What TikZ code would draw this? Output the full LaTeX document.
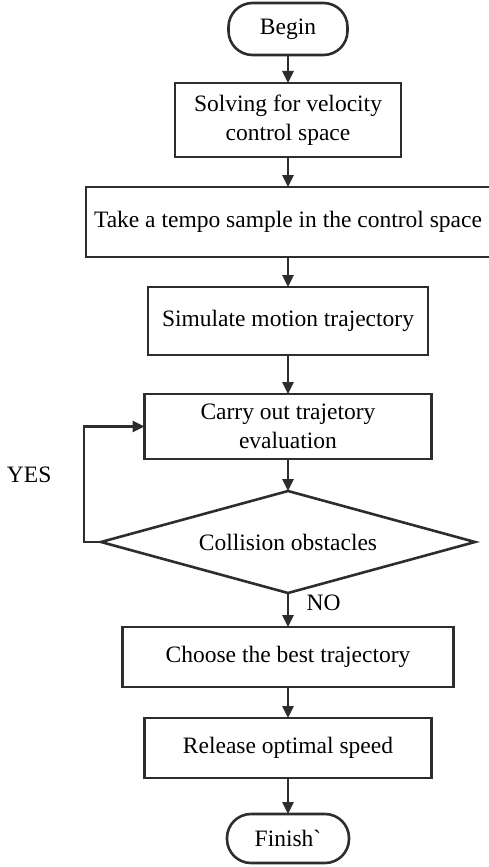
\documentclass[tikz,border=0pt]{standalone}
\usepackage{fontspec}
\setmainfont{Liberation Serif}
\usetikzlibrary{arrows.meta,positioning,shapes.geometric}
\definecolor{edgegray}{RGB}{45,45,45}
\newcommand{\plaingrave}{\XeTeXglyph\XeTeXcharglyph"0060\relax}
\tikzset{
  stepbox/.style={draw=edgegray, rectangle, line width=2.6pt, inner sep=0pt, outer sep=0pt, align=center},
  terminal/.style={stepbox, rounded corners=24pt},
  decision/.style={draw=edgegray, diamond, aspect=3.67, line width=2.6pt, inner sep=0pt, outer sep=0pt},
  arrow/.style={-{Triangle[width=11pt,length=12pt]}, line width=2.6pt, draw=edgegray}
}

\begin{document}
\begin{tikzpicture}[x=1pt, y=1pt, font=\fontsize{23.5}{29}\selectfont]
  \useasboundingbox (0,0) rectangle (488,-867);
  \node [terminal, minimum width=119pt, minimum height=52pt] (begin) at (288,-29) {Begin};
  \node [stepbox, below=28pt of begin, minimum width=226pt, minimum height=74pt] (solve) {Solving for velocity\\control space};
  \node [stepbox, below=30pt of solve, minimum width=404pt, minimum height=70pt] (sample) {Take a tempo sample in the control space};
  \node [stepbox, below=30pt of sample, minimum width=280pt, minimum height=68pt] (simulate) {Simulate motion trajectory};
  \node [stepbox, below=39pt of simulate, minimum width=287pt, minimum height=65pt] (evaluate) {Carry out trajetory\\evaluation};
  \node [decision, below=32pt of evaluate, minimum width=374pt, minimum height=102pt] (collide) {Collision obstacles};
  \node [stepbox, below=34pt of collide, minimum width=331pt, minimum height=60pt] (choose) {Choose the best trajectory};
  \node [stepbox, below=31pt of choose, minimum width=287pt, minimum height=60pt] (release) {Release optimal speed};
  \node [terminal, below=36pt of release, minimum width=122pt, minimum height=49pt] (finish) {Finish\plaingrave};

  \draw [arrow] (begin) -- (solve);
  \draw [arrow] (solve) -- (sample);
  \draw [arrow] (sample) -- (simulate);
  \draw [arrow] (simulate) -- (evaluate);
  \draw [arrow] (evaluate) -- (collide);
  \draw [arrow] (collide) -- node [pos=0.3, right=14pt] {NO} (choose);
  \draw [arrow] (collide.west) -- ++(-17,0) |- node [pos=0.29, left=28pt] {YES} (evaluate.west);
  \draw [arrow] (choose) -- (release);
  \draw [arrow] (release) -- (finish);
\end{tikzpicture}
\end{document}
